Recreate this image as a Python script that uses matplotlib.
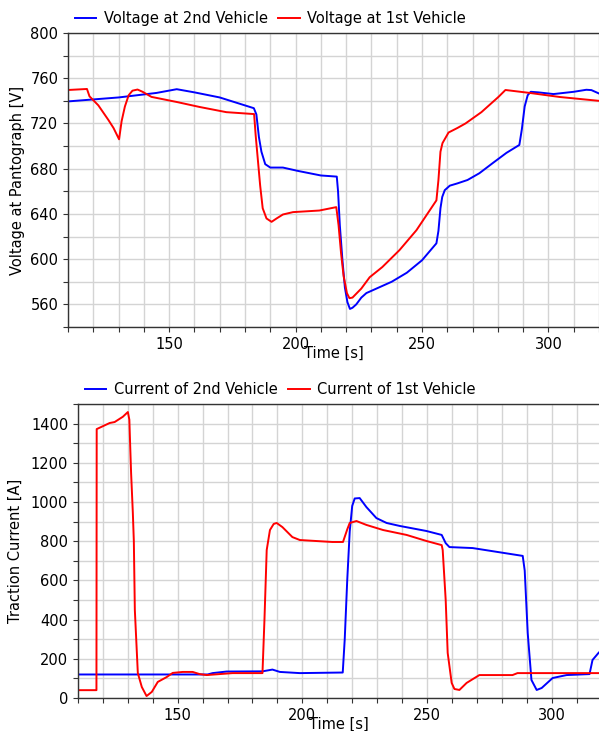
import matplotlib
matplotlib.use('Agg')
import matplotlib.pyplot as plt
from matplotlib.ticker import MultipleLocator

plt.rcParams['font.family'] = ['DejaVu Sans']
plt.rcParams['font.size'] = 10

# top panel: pantograph voltage
t_v2 = [110, 130, 145, 153, 160, 170, 183.5, 184.5, 185.5, 186.5, 188, 190, 195, 201, 210, 216.3,
        216.8, 217.5, 218.5, 219.5, 220.5, 221.5, 222.5, 224, 226, 228, 232, 238, 244, 250, 255.7,
        256.5, 257.3, 258, 259, 261, 264, 268, 272.7, 278, 283.4, 288.5, 289.5, 290.6, 291.8, 293,
        296, 302, 310, 315, 317, 320]
v2 = [739.5, 743, 747, 750.3, 747.5, 743, 733.5, 728, 708, 695, 684, 681, 681, 678, 674, 673,
      660, 630, 600, 575, 562, 556, 557, 560, 566, 570, 574, 580, 588, 599, 614,
      625, 645, 655, 661, 665, 667, 670, 676, 685, 694, 701, 715, 735, 745, 748,
      747.5, 746, 748, 749.8, 749.5, 746.5]

t_v1 = [110, 117.5, 118.5, 122, 126, 128, 130.2, 131.2, 132.5, 134, 135.5, 137.5, 139.5, 143, 153,
        162, 172.6, 183.6, 184.2, 185, 186, 187, 188.5, 190.5, 192.5, 195, 199, 202, 209.4, 216.1,
        217, 218, 219, 220.3, 221.3, 222.5, 226, 229.3, 234.3, 241.1, 247.8, 255.7, 256.5, 257.3,
        258.1, 260.5, 264, 267.2, 273.5, 280.2, 283, 292.6, 304.5, 320]
v1 = [749.6, 750.5, 744, 736, 723, 716, 706, 722, 735, 745, 749, 750, 748, 743.5, 739,
      734.6, 730, 728.3, 710, 690, 665, 645, 636, 633, 636, 639.5, 641.6, 642, 643, 646,
      630, 605, 585, 570, 565.5, 566, 574, 584, 593, 608, 625.6, 652, 670, 695,
      702.6, 712, 716, 720, 730, 743.4, 749.6, 747, 743.4, 740]

# bottom panel: traction current
t_i2 = [110, 162, 164, 169.6, 184, 188, 191, 199, 216.2, 217, 218, 219, 220, 221, 223, 225.7,
        229.7, 233.8, 239, 249.8, 255.9, 257.5, 259, 268.3, 288.4, 289.2, 290.4, 291.9, 294, 296,
        300.4, 306, 315.2, 316.4, 318.8, 320]
i2 = [120, 120, 127, 135, 136, 145, 133, 127, 130, 300, 600, 850, 980, 1018, 1020, 974,
      918, 893, 878, 852, 832, 790, 770, 765, 725, 650, 332, 92, 41, 51,
      102, 117, 122, 194, 230, 245]

t_i1 = [110, 117.4, 117.5, 122.7, 124.7, 128, 130, 130.6, 130.9, 131.3, 132, 132.4, 132.8, 134,
        135.6, 137.5, 139.6, 142, 145.6, 148, 152, 156, 158.8, 161.6, 172, 184, 184.8, 185.7, 187,
        188.5, 189.7, 192, 196, 199, 212, 216.3, 218, 219, 221.7, 225.7, 232.4, 241.8, 249.8, 255.9,
        256.3, 257.5, 258.3, 259.9, 261, 263, 265.9, 271, 284.3, 286.3, 320]
i1 = [40, 40, 1372, 1403, 1408, 1435, 1459, 1420, 1300, 1148, 944, 800, 449, 127,
      56, 10, 31, 82, 107, 128, 133, 133, 122, 117, 127, 127, 400, 755, 857,
      888, 893, 872, 821, 806, 796, 796, 860, 893, 903, 883, 857, 832, 801, 780,
      755, 500, 230, 77, 46, 41, 77, 117, 117, 127, 127]

BLUE = '#0000ff'
RED = '#ff0000'
GRID = '#d4d4d4'

fig = plt.figure(figsize=(5.99, 7.31), dpi=100)
ax1 = fig.add_axes([68 / 599, 1 - 327 / 731, 531 / 599, 294 / 731])
ax2 = fig.add_axes([78 / 599, 1 - 698 / 731, 521 / 599, 294 / 731])


def style_axes(ax, ymaj, ymin):
    ax.xaxis.set_major_locator(MultipleLocator(50))
    ax.xaxis.set_minor_locator(MultipleLocator(10))
    ax.yaxis.set_major_locator(MultipleLocator(ymaj))
    ax.yaxis.set_minor_locator(MultipleLocator(ymin))
    ax.grid(True, which='both', color=GRID, linewidth=1.0)
    ax.set_axisbelow(True)
    ax.spines['right'].set_visible(False)
    for s in ['left', 'top', 'bottom']:
        ax.spines[s].set_color('#333333')
        ax.spines[s].set_linewidth(1.0)
    ax.tick_params(which='both', direction='out', length=3.5, width=0.8, color='#333333',
                   labelsize=10.5, right=False, top=False)
    # the label sits on top of the tick labels, like in the original tool
    ax.set_xlabel('Time [s]', fontsize=10.5, va='center')
    ax.xaxis.set_label_coords(0.5, -0.088)


ax1.plot(t_v2, v2, color=BLUE, lw=1.4, label='Voltage at 2nd Vehicle')
ax1.plot(t_v1, v1, color=RED, lw=1.4, label='Voltage at 1st Vehicle')
ax1.set_xlim(110, 320)
ax1.set_ylim(540, 800)
style_axes(ax1, 40, 20)
ax1.set_ylabel('Voltage at Pantograph [V]', fontsize=10.5)

ax2.plot(t_i2, i2, color=BLUE, lw=1.4, label='Current of 2nd Vehicle')
ax2.plot(t_i1, i1, color=RED, lw=1.4, label='Current of 1st Vehicle')
ax2.set_xlim(110, 319)
ax2.set_ylim(0, 1500)
style_axes(ax2, 200, 100)
ax2.set_ylabel('Traction Current [A]', fontsize=10.5)

for ax in (ax1, ax2):
    ax.legend(loc='lower left', bbox_to_anchor=(0.0, 1.0), ncol=2, frameon=False,
              borderaxespad=0, borderpad=0.45, handlelength=1.5, handletextpad=0.5,
              columnspacing=0.7, fontsize=10.5)

ax1.yaxis.set_label_coords(-43 / 531, 0.5)
ax2.yaxis.set_label_coords(-55 / 521, 0.5)

fig.savefig('out.png', dpi=100)
